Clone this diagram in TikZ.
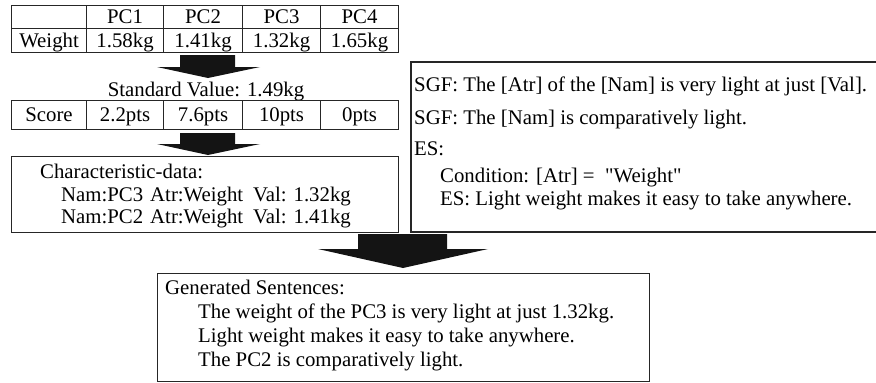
\documentclass[tikz,border=0pt]{standalone}
\usepackage{fontspec}
\setmainfont{Liberation Serif}
\newcommand{\mainsize}{\fontsize{20.8}{22.8}\selectfont}
\begin{document}
\begin{tikzpicture}[x=1pt,y=-1pt,
  frame/.style={draw=black!85, line width=1.1pt},
  cell/.style={frame, inner sep=0pt, font=\mainsize,
    text height=13.5pt, text depth=0pt, minimum height=#1, anchor=north west},
  txt/.style={font=\mainsize, inner sep=0pt, anchor=base west},
  ctxt/.style={font=\mainsize, inner sep=0pt, anchor=base},
  blockarrow/.style={fill=black!92, draw=none}]
\useasboundingbox (0,0) rectangle (876,383);

% ---------- top table ----------
\node[cell=23pt, minimum width=75pt] (h0) at (11,5) {};
\node[cell=23pt, minimum width=77pt] (h1) at (86,5) {PC1};
\node[cell=23pt, minimum width=79pt] (h2) at (163,5) {PC2};
\node[cell=23pt, minimum width=78pt] (h3) at (242,5) {PC3};
\node[cell=23pt, minimum width=78pt] (h4) at (320,5) {PC4};
\node[cell=24pt, minimum width=75pt] (w0) at (11,28) {Weight};
\node[cell=24pt, minimum width=77pt] (w1) at (86,28) {1.58kg};
\node[cell=24pt, minimum width=79pt] (w2) at (163,28) {1.41kg};
\node[cell=24pt, minimum width=78pt] (w3) at (242,28) {1.32kg};
\node[cell=24pt, minimum width=78pt] (w4) at (320,28) {1.65kg};

% ---------- standard value ----------
\node[ctxt] (sv) at (206,96) {Standard Value: 1.49kg};

% ---------- score table ----------
\node[cell=29pt, minimum width=75pt] (s0) at (11,100) {Score};
\node[cell=29pt, minimum width=77pt] (s1) at (86,100) {2.2pts};
\node[cell=29pt, minimum width=79pt] (s2) at (163,100) {7.6pts};
\node[cell=29pt, minimum width=78pt] (s3) at (242,100) {10pts};
\node[cell=29pt, minimum width=78pt] (s4) at (320,100) {0pts};

% ---------- characteristic data ----------
\node[frame, inner sep=0pt, minimum width=387pt, minimum height=76pt, anchor=north west] (cd) at (11,156) {};
\node[txt] (cd0) at (40,178) {Characteristic-data:};
\node[txt] (cd1) at (61,201) {Nam:PC3};
\node[txt] (cd2) at (150,201) {Atr:Weight};
\node[txt] (cd3) at (253,201) {Val: 1.32kg};
\node[txt] (cd4) at (61,223) {Nam:PC2};
\node[txt] (cd5) at (150,223) {Atr:Weight};
\node[txt] (cd6) at (253,223) {Val: 1.41kg};

% ---------- SGF / ES box (right edge cut off) ----------
\coordinate (rb1) at (876,62);
\coordinate (rb2) at (411,62);
\coordinate (rb3) at (411,232);
\coordinate (rb4) at (876,232);
\draw[frame] (rb1) -- (rb2) -- (rb3) -- (rb4);
\node[txt] (g1) at (414,91) {SGF: The [Atr] of the [Nam] is very light at just [Val].};
\node[txt] (g2) at (414,124) {SGF: The [Nam] is comparatively light.};
\node[txt] (g3) at (414,155) {ES:};
\node[txt] (g4) at (440,182) {Condition: [Atr] =\ \ \textquotedbl Weight\textquotedbl};
\node[txt] (g5) at (440,205) {ES: Light weight makes it easy to take anywhere.};

% ---------- generated sentences ----------
\node[frame, inner sep=0pt, minimum width=492pt, minimum height=108pt, anchor=north west] (gs) at (157,273) {};
\node[txt] (gs0) at (165,294) {Generated Sentences:};
\node[txt] (gs1) at (198,318) {The weight of the PC3 is very light at just 1.32kg.};
\node[txt] (gs2) at (198,342) {Light weight makes it easy to take anywhere.};
\node[txt] (gs3) at (198,366) {The PC2 is comparatively light.};

% ---------- block arrows ----------
\fill[blockarrow] (180,55) -- (235,55) -- (235,67) -- (260,67) -- (208,78) -- (157,67) -- (180,67) -- cycle;
\fill[blockarrow] (180,133) -- (235,133) -- (235,144) -- (260,144) -- (208,155) -- (157,144) -- (180,144) -- cycle;
\fill[blockarrow] (358,234) -- (447,234) -- (447,249) -- (488,249) -- (403,268) -- (318,249) -- (358,249) -- cycle;
\end{tikzpicture}
\end{document}
